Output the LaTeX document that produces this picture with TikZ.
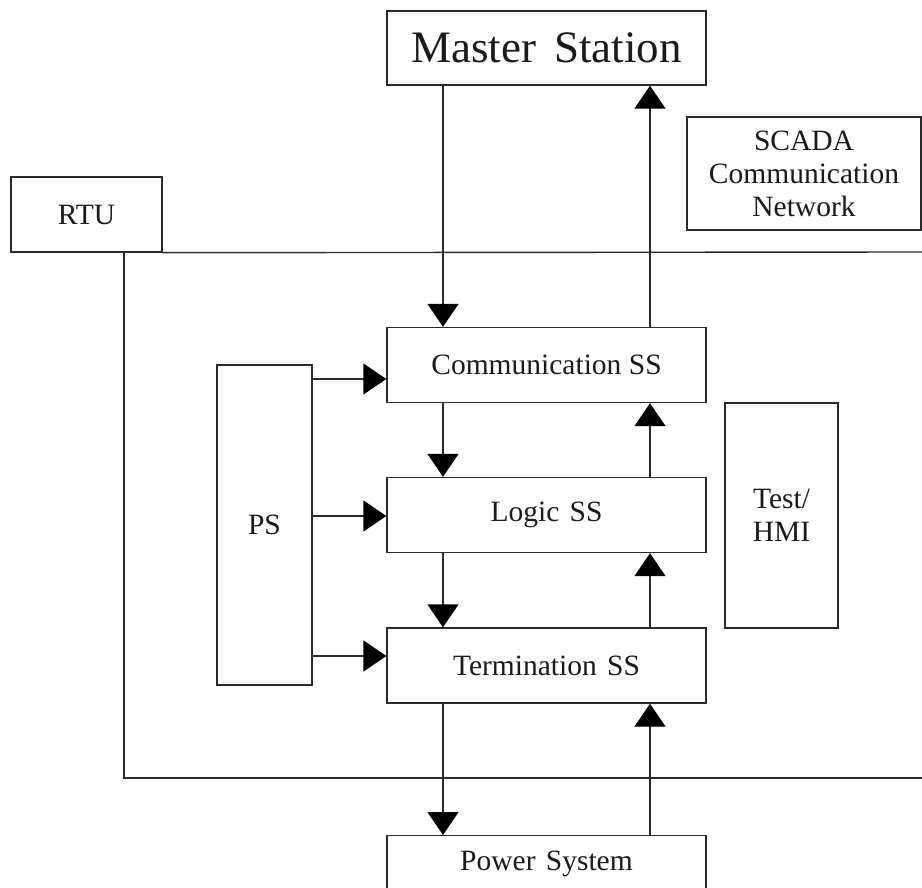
\documentclass[tikz,border=0pt]{standalone}
\usepackage{fontspec}
\setmainfont{Liberation Serif}
\usetikzlibrary{arrows.meta}
\definecolor{ln}{HTML}{2A2A2A}
\definecolor{tx}{HTML}{1A1A1A}
\begin{document}
\begin{tikzpicture}[x=1pt,y=-1pt,
  box/.style={draw=ln, line width=1.4pt, inner sep=0pt, text=tx, align=center,
    font=\fontsize{29.5}{33}\selectfont},
  wire/.style={draw=ln, line width=1.4pt},
  arr/.style={wire, -{Triangle[width=31pt,length=23pt,fill=black,color=black]}}]
\useasboundingbox (0,0) rectangle (922,888);
\clip (0,0) rectangle (922,888);
\fill[white] (0,0) rectangle (922,888);
% nodes
\node[box, minimum width=319, minimum height=74, font=\fontsize{45}{50}\selectfont] (ms) at (546.5,48) {Master\hspace{0.4em}Station};
\node[box, minimum width=234, minimum height=113] (scada) at (804,173.5) {SCADA\\Communication\\Network};
\node[box, minimum width=151, minimum height=75] (rtu) at (86.5,214.5) {RTU};
\node[box, minimum width=319, minimum height=75] (cs) at (546.5,365) {Communication SS};
\node[box, minimum width=319, minimum height=75] (ls) at (546.5,515) {Logic\hspace{0.35em}SS};
\node[box, minimum width=319, minimum height=75] (ts) at (546.5,665.5) {Termination\hspace{0.35em}SS};
\node[box, minimum width=319, minimum height=75, anchor=north] (pw) at (546.5,835) {};
\node[text=tx, font=\fontsize{29.5}{33}\selectfont, inner sep=0pt] (pwt) at (546.5,864) {Power\hspace{0.35em}System};
\node[box, minimum width=95, minimum height=320] (ps) at (264.5,525) {PS};
\node[box, minimum width=113, minimum height=225] (hmi) at (781.5,515.5) {Test/\\HMI};
% helper coordinates
\coordinate (xl) at (443,0);
\coordinate (xr) at (650,0);
\coordinate (re1) at (922,252);
\coordinate (rv) at (124,778);
\coordinate (re2) at (922,778);
\coordinate (y1) at (0,379);
\coordinate (y2) at (0,516);
\coordinate (y3) at (0,656);
% RTU enclosure
\draw[wire] (rtu.south east) -- (re1);
\draw[wire] (rtu.south -| rv) -- (rv) -- (re2);
% vertical arrows
\draw[arr] (ms.south -| xl) -- (cs.north -| xl);
\draw[arr] (cs.north -| xr) -- (ms.south -| xr);
\draw[arr] (cs.south -| xl) -- (ls.north -| xl);
\draw[arr] (ls.north -| xr) -- (cs.south -| xr);
\draw[arr] (ls.south -| xl) -- (ts.north -| xl);
\draw[arr] (ts.north -| xr) -- (ls.south -| xr);
\draw[arr] (ts.south -| xl) -- (pw.north -| xl);
\draw[arr] (pw.north -| xr) -- (ts.south -| xr);
% PS arrows
\draw[arr] (ps.east |- y1) -- (cs.west |- y1);
\draw[arr] (ps.east |- y2) -- (ls.west |- y2);
\draw[arr] (ps.east |- y3) -- (ts.west |- y3);
\end{tikzpicture}
\end{document}
